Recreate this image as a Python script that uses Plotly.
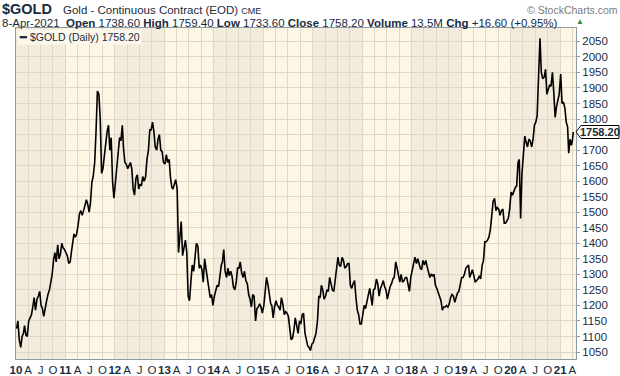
import plotly.graph_objects as go

# ---- data, 3 samples per month (days 5, 15, 25) ----
days = [5, 15, 25]
g2010 = [1125, 1150, 1090, 1065, 1100, 1110, 1135, 1105, 1100, 1150, 1160, 1170,
         1195, 1225, 1185, 1220, 1230, 1245, 1200, 1190, 1165, 1200, 1215, 1235,
         1250, 1275, 1300, 1345, 1370, 1340, 1395, 1350, 1365, 1400, 1385, 1380]
g2011 = [1370, 1360, 1335, 1340, 1375, 1405, 1430, 1420, 1430, 1460, 1495, 1505,
         1490, 1505, 1525, 1540, 1525, 1500, 1530, 1595, 1615, 1660, 1760, 1890,
         1880, 1800, 1625, 1640, 1680, 1720, 1760, 1780, 1700, 1740, 1600, 1545]
g2012 = [1600, 1640, 1710, 1740, 1730, 1780, 1705, 1660, 1655, 1640, 1650, 1660,
         1640, 1575, 1555, 1610, 1620, 1575, 1590, 1585, 1615, 1600, 1615, 1670,
         1700, 1765, 1765, 1790, 1760, 1710, 1700, 1735, 1750, 1700, 1695, 1660]
g2013 = [1655, 1685, 1660, 1670, 1610, 1580, 1575, 1595, 1605, 1575, 1370, 1420,
         1470, 1360, 1385, 1410, 1370, 1230, 1215, 1290, 1330, 1310, 1365, 1400,
         1390, 1320, 1330, 1315, 1275, 1350, 1315, 1285, 1245, 1225, 1235, 1200]
g2014 = [1230, 1250, 1265, 1260, 1300, 1330, 1340, 1380, 1310, 1290, 1320, 1295,
         1310, 1295, 1260, 1250, 1275, 1320, 1320, 1340, 1305, 1290, 1310, 1280,
         1270, 1235, 1220, 1195, 1235, 1230, 1150, 1190, 1195, 1205, 1195, 1175]
g2015 = [1200, 1255, 1290, 1265, 1225, 1205, 1200, 1160, 1195, 1215, 1200, 1195,
         1185, 1225, 1205, 1170, 1180, 1175, 1165, 1135, 1090, 1095, 1120, 1160,
         1125, 1110, 1150, 1140, 1170, 1175, 1110, 1090, 1070, 1065, 1055, 1075]
g2016 = [1080, 1095, 1110, 1150, 1230, 1225, 1265, 1250, 1220, 1230, 1250, 1245,
         1290, 1270, 1250, 1245, 1285, 1320, 1355, 1330, 1325, 1355, 1345, 1320,
         1325, 1335, 1335, 1265, 1255, 1270, 1280, 1225, 1185, 1170, 1140, 1140]
g2017 = [1170, 1200, 1190, 1220, 1235, 1255, 1235, 1200, 1250, 1255, 1285, 1270,
         1230, 1255, 1265, 1280, 1260, 1250, 1220, 1240, 1260, 1270, 1285, 1290,
         1340, 1320, 1295, 1275, 1300, 1275, 1280, 1290, 1290, 1265, 1245, 1290]
g2018 = [1320, 1335, 1355, 1335, 1350, 1330, 1320, 1315, 1345, 1330, 1345, 1325,
         1310, 1290, 1300, 1295, 1300, 1265, 1255, 1240, 1225, 1215, 1185, 1195,
         1195, 1200, 1195, 1205, 1225, 1235, 1230, 1210, 1225, 1240, 1245, 1270]
g2019 = [1290, 1290, 1300, 1320, 1325, 1330, 1290, 1300, 1315, 1295, 1275, 1280,
         1285, 1295, 1285, 1330, 1345, 1405, 1405, 1410, 1420, 1445, 1505, 1535,
         1545, 1505, 1515, 1510, 1490, 1505, 1510, 1465, 1465, 1475, 1480, 1510]
g2020 = [1565, 1555, 1570, 1580, 1585, 1660, 1670, 1480, 1625, 1690, 1745, 1725,
         1710, 1735, 1730, 1710, 1735, 1780, 1790, 1810, 1935, 2060, 1950, 1930,
         1935, 1960, 1880, 1900, 1910, 1905, 1950, 1885, 1805, 1840, 1860, 1880]
g2021 = [1945, 1850, 1855, 1835, 1790, 1775, 1690, 1735, 1715]
tail_dates = ["2021-04-01", "2021-04-08"]
tail_values = [1730, 1758.20]

years = [2010, 2011, 2012, 2013, 2014, 2015, 2016, 2017, 2018, 2019, 2020, 2021]
series = [g2010, g2011, g2012, g2013, g2014, g2015, g2016, g2017, g2018, g2019, g2020, g2021]

y_ticks = list(range(1050, 2051, 50))
hidden_tick = 1750  # covered by the last-price tag in the original

dates, values = [], []
for yr, arr in zip(years, series):
    for i, v in enumerate(arr):
        m = i // 3 + 1
        d = days[i % 3]
        dates.append(f"{yr}-{m:02d}-{d:02d}")
        values.append(v)
dates += tail_dates
values += tail_values
last_val = values[-1]

# quarter ticks
tickvals, ticktext = [], []
for yr in range(2010, 2022):
    for m, lab in [(1, None), (4, "A"), (7, "J"), (10, "O")]:
        tickvals.append(f"{yr}-{m:02d}-01")
        ticktext.append(f"<b>{str(yr)[2:]}</b>" if lab is None else lab)

NAVY = "#1a2b3c"
W, H = 620, 376
L, R, T, B = 16, 44, 28, 17
PW, PH = W - L - R, H - T - B


def px(xp):
    return (xp - L) / PW


def py(yp):
    return (H - B - yp) / PH


fig = go.Figure()
fig.add_trace(go.Scatter(x=dates, y=values, mode="lines",
                         line=dict(color="black", width=1.6), hoverinfo="skip"))

# alternating year bands (even years darker)
shapes = []
for yr in range(2010, 2022, 2):
    shapes.append(dict(type="rect", xref="x", yref="paper",
                       x0=f"{yr}-01-01", x1=f"{yr+1}-01-01", y0=0, y1=1,
                       fillcolor="#f3ecdc", line=dict(width=0), layer="below"))

# last price tag (pointer box)
half = 6.5 / 0.3105
tag_path = (f"M {px(576)},{last_val} L {px(581)},{last_val + half} L {px(619)},{last_val + half} "
            f"L {px(619)},{last_val - half} L {px(581)},{last_val - half} Z")
shapes.append(dict(type="path", xref="paper", yref="y", path=tag_path,
                   fillcolor="#fffdf5", line=dict(color="black", width=1), layer="above"))

fig.update_layout(
    width=W, height=H,
    margin=dict(l=L, r=R, t=T, b=B, autoexpand=False),
    paper_bgcolor="white", plot_bgcolor="#fdf6e4",
    showlegend=False,
    shapes=shapes,
    font=dict(family="Liberation Sans, Arial", color=NAVY),
    xaxis=dict(type="date", range=["2010-01-01", "2021-04-28"], automargin=False,
               tickmode="array", tickvals=tickvals, ticktext=ticktext, tickangle=0,
               showgrid=True, gridcolor="#e0d8c6", gridwidth=1,
               showline=True, linecolor="#8e9ba4", linewidth=1, mirror=True,
               ticks="", tickfont=dict(size=11.5, color=NAVY),
               zeroline=False, fixedrange=True),
    yaxis=dict(side="right", range=[1027.5, 2093], automargin=False,
               tickmode="array", tickvals=y_ticks,
               ticktext=["" if v == hidden_tick else str(v) for v in y_ticks],
               showgrid=True, gridcolor="#e0d8c6", gridwidth=1,
               showline=True, linecolor="#8e9ba4", linewidth=1, mirror=True,
               ticks="outside", ticklen=3, tickcolor="#8e9ba4",
               tickfont=dict(size=11.5, color=NAVY), zeroline=False, fixedrange=True),
)

ann = []
ann.append(dict(xref="paper", yref="paper", x=px(1), y=py(9), xanchor="left", yanchor="middle",
                text="<b>$GOLD</b>", showarrow=False, borderpad=0, font=dict(size=14.5, color=NAVY)))
ann.append(dict(xref="paper", yref="paper", x=px(62), y=py(10), xanchor="left", yanchor="middle",
                text="Gold - Continuous Contract (EOD) <span style='font-size:9px'>CME</span>", showarrow=False,
                borderpad=0, font=dict(size=11.5, color=NAVY)))
ann.append(dict(xref="paper", yref="paper", x=px(619), y=py(10), xanchor="right", yanchor="middle",
                text="© StockCharts.com", showarrow=False, borderpad=0, font=dict(size=10.5, color="#7b7b7b")))
ann.append(dict(xref="paper", yref="paper", x=px(1), y=py(23), xanchor="left", yanchor="middle",
                text="8-Apr-2021  <b>Open</b> 1738.60 <b>High</b> 1759.40 <b>Low</b> 1733.60 <b>Close</b> 1758.20 <b>Volume</b> 13.5M <b>Chg</b> +16.60 (+0.95%)",
                showarrow=False, borderpad=0, font=dict(size=11.5, color=NAVY)))
ann.append(dict(xref="paper", yref="paper", x=px(580), y=py(22), xanchor="center", yanchor="middle",
                text="▲", showarrow=False, borderpad=0, font=dict(size=8, color="#2e8b3a")))
# legend
ann.append(dict(xref="paper", yref="paper", x=px(17), y=py(29), xanchor="left", yanchor="top",
                text="<b>━</b> $GOLD (Daily) 1758.20", showarrow=False, bgcolor="#fdf8ec",
                borderpad=1, font=dict(size=10.5, color=NAVY)))
# last price label
ann.append(dict(xref="paper", yref="y", x=px(600), y=last_val, xanchor="center", yanchor="middle",
                text=f"<b>{last_val:.2f}</b>", showarrow=False,
                font=dict(size=11, color=NAVY)))
fig.update_layout(annotations=ann)

fig.write_html("out.html", config={"displayModeBar": False},
               post_script="document.body.style.margin='0';document.body.style.padding='0';")
